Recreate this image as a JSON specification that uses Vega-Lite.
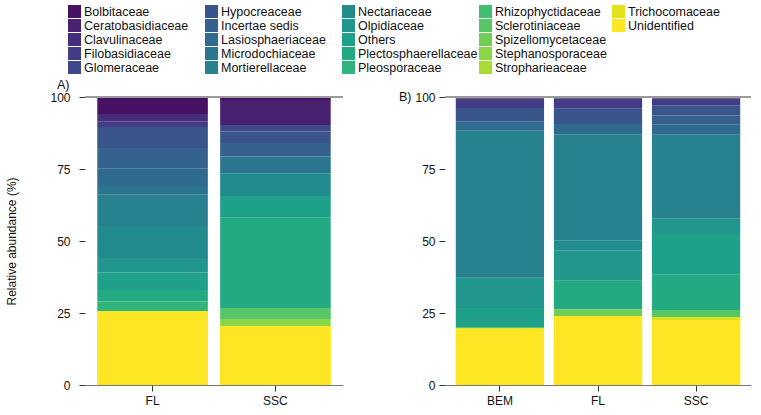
{
  "$schema": "https://vega.github.io/schema/vega-lite/v6.json",
  "config": {
    "font": "Liberation Sans",
    "view": {"stroke": null},
    "axis": {"labelFontSize": 12, "labelColor": "#111", "titleFontSize": 12, "titleFontWeight": "normal", "titleColor": "#111", "grid": false, "tickColor": "#333", "domainColor": "#777"},
    "legend": {"symbolType": "square", "symbolSize": 169, "symbolStrokeWidth": 0, "labelFontSize": 12.5, "labelColor": "#111", "labelLimit": 250, "labelOffset": 3, "rowPadding": 1, "columnPadding": 1, "gridAlign": "all", "titlePadding": 0}
  },
  "datasets": {
    "ab": [
      {"panel": "A", "sample": "FL", "family": "Bolbitaceae", "abundance": 5.9},
      {"panel": "A", "sample": "FL", "family": "Clavulinaceae", "abundance": 2.5},
      {"panel": "A", "sample": "FL", "family": "Filobasidiaceae", "abundance": 2.0},
      {"panel": "A", "sample": "FL", "family": "Hypocreaceae", "abundance": 7.3},
      {"panel": "A", "sample": "FL", "family": "Incertae sedis", "abundance": 7.0},
      {"panel": "A", "sample": "FL", "family": "Lasiosphaeriaceae", "abundance": 6.2},
      {"panel": "A", "sample": "FL", "family": "Microdochiaceae", "abundance": 3.0},
      {"panel": "A", "sample": "FL", "family": "Mortierellaceae", "abundance": 10.9},
      {"panel": "A", "sample": "FL", "family": "Nectariaceae", "abundance": 11.1},
      {"panel": "A", "sample": "FL", "family": "Olpidiaceae", "abundance": 5.0},
      {"panel": "A", "sample": "FL", "family": "Others", "abundance": 6.1},
      {"panel": "A", "sample": "FL", "family": "Plectosphaerellaceae", "abundance": 4.0},
      {"panel": "A", "sample": "FL", "family": "Pleosporaceae", "abundance": 3.3},
      {"panel": "A", "sample": "FL", "family": "Unidentified", "abundance": 25.7},
      {"panel": "A", "sample": "SSC", "family": "Bolbitaceae", "abundance": 1.0},
      {"panel": "A", "sample": "SSC", "family": "Ceratobasidiaceae", "abundance": 8.7},
      {"panel": "A", "sample": "SSC", "family": "Glomeraceae", "abundance": 2.3},
      {"panel": "A", "sample": "SSC", "family": "Hypocreaceae", "abundance": 4.0},
      {"panel": "A", "sample": "SSC", "family": "Incertae sedis", "abundance": 4.7},
      {"panel": "A", "sample": "SSC", "family": "Microdochiaceae", "abundance": 5.8},
      {"panel": "A", "sample": "SSC", "family": "Nectariaceae", "abundance": 7.9},
      {"panel": "A", "sample": "SSC", "family": "Others", "abundance": 7.5},
      {"panel": "A", "sample": "SSC", "family": "Plectosphaerellaceae", "abundance": 31.4},
      {"panel": "A", "sample": "SSC", "family": "Sclerotiniaceae", "abundance": 3.8},
      {"panel": "A", "sample": "SSC", "family": "Stephanosporaceae", "abundance": 2.4},
      {"panel": "A", "sample": "SSC", "family": "Unidentified", "abundance": 20.5},
      {"panel": "B", "sample": "BEM", "family": "Bolbitaceae", "abundance": 0.5},
      {"panel": "B", "sample": "BEM", "family": "Filobasidiaceae", "abundance": 3.3},
      {"panel": "B", "sample": "BEM", "family": "Hypocreaceae", "abundance": 4.6},
      {"panel": "B", "sample": "BEM", "family": "Lasiosphaeriaceae", "abundance": 3.3},
      {"panel": "B", "sample": "BEM", "family": "Mortierellaceae", "abundance": 51.1},
      {"panel": "B", "sample": "BEM", "family": "Olpidiaceae", "abundance": 10.5},
      {"panel": "B", "sample": "BEM", "family": "Others", "abundance": 6.6},
      {"panel": "B", "sample": "BEM", "family": "Sclerotiniaceae", "abundance": 0.5},
      {"panel": "B", "sample": "BEM", "family": "Unidentified", "abundance": 19.6},
      {"panel": "B", "sample": "FL", "family": "Bolbitaceae", "abundance": 0.5},
      {"panel": "B", "sample": "FL", "family": "Filobasidiaceae", "abundance": 3.6},
      {"panel": "B", "sample": "FL", "family": "Hypocreaceae", "abundance": 5.3},
      {"panel": "B", "sample": "FL", "family": "Lasiosphaeriaceae", "abundance": 3.5},
      {"panel": "B", "sample": "FL", "family": "Mortierellaceae", "abundance": 37.0},
      {"panel": "B", "sample": "FL", "family": "Nectariaceae", "abundance": 3.3},
      {"panel": "B", "sample": "FL", "family": "Olpidiaceae", "abundance": 10.6},
      {"panel": "B", "sample": "FL", "family": "Plectosphaerellaceae", "abundance": 9.9},
      {"panel": "B", "sample": "FL", "family": "Spizellomycetaceae", "abundance": 2.3},
      {"panel": "B", "sample": "FL", "family": "Unidentified", "abundance": 24.0},
      {"panel": "B", "sample": "SSC", "family": "Bolbitaceae", "abundance": 0.5},
      {"panel": "B", "sample": "SSC", "family": "Filobasidiaceae", "abundance": 2.4},
      {"panel": "B", "sample": "SSC", "family": "Hypocreaceae", "abundance": 3.5},
      {"panel": "B", "sample": "SSC", "family": "Incertae sedis", "abundance": 3.2},
      {"panel": "B", "sample": "SSC", "family": "Lasiosphaeriaceae", "abundance": 3.5},
      {"panel": "B", "sample": "SSC", "family": "Mortierellaceae", "abundance": 29.2},
      {"panel": "B", "sample": "SSC", "family": "Olpidiaceae", "abundance": 5.3},
      {"panel": "B", "sample": "SSC", "family": "Others", "abundance": 14.1},
      {"panel": "B", "sample": "SSC", "family": "Plectosphaerellaceae", "abundance": 12.3},
      {"panel": "B", "sample": "SSC", "family": "Sclerotiniaceae", "abundance": 2.5},
      {"panel": "B", "sample": "SSC", "family": "Trichocomaceae", "abundance": 1.0},
      {"panel": "B", "sample": "SSC", "family": "Unidentified", "abundance": 22.5}
    ]
  },
  "data": {"name": "ab"},
  "spacing": 102,
  "align": "none",
  "bounds": "flush",
  "resolve": {"scale": {"color": "shared", "fill": "shared"}},
  "hconcat": [
    {
      "width": 258,
      "height": 288,
      "title": {"text": "A)", "anchor": "start", "frame": "group", "dx": -28, "fontSize": 12.5, "fontWeight": "normal", "offset": 0, "color": "#111"},
      "transform": [{"filter": "datum.panel === 'A'"}],
      "layer": [
        {
          "encoding": {
            "x": {"field": "sample", "type": "nominal", "sort": ["FL", "SSC"], "scale": {"paddingInner": 0.1, "paddingOuter": 0.1}, "axis": {"title": null, "labelAngle": 0, "tickSize": 6, "labelPadding": 4}},
            "y": {"field": "abundance", "type": "quantitative", "stack": "zero", "scale": {"domain": [0, 100]}, "axis": {"title": "Relative abundance (%)", "values": [0, 25, 50, 75, 100], "domain": false, "tickSize": 6, "labelPadding": 9, "titlePadding": 31}},
            "order": {"field": "family", "sort": "descending"}
          },
          "layer": [
            {
              "mark": {"type": "bar"},
              "encoding": {
                "color": {
                  "field": "family", "type": "nominal",
                  "scale": {"domain": ["Bolbitaceae", "Ceratobasidiaceae", "Clavulinaceae", "Filobasidiaceae", "Glomeraceae", "Hypocreaceae", "Incertae sedis", "Lasiosphaeriaceae", "Microdochiaceae", "Mortierellaceae", "Nectariaceae", "Olpidiaceae", "Others", "Plectosphaerellaceae", "Pleosporaceae", "Rhizophyctidaceae", "Sclerotiniaceae", "Spizellomycetaceae", "Stephanosporaceae", "Stropharieaceae", "Trichocomaceae", "Unidentified"], "scheme": "viridis"},
                  "legend": {"title": null, "orient": "none", "legendX": -17, "legendY": -92, "columns": 4, "values": ["Bolbitaceae", "Ceratobasidiaceae", "Clavulinaceae", "Filobasidiaceae", "Glomeraceae", "Hypocreaceae", "Incertae sedis", "Lasiosphaeriaceae", "Microdochiaceae", "Mortierellaceae", "Nectariaceae", "Olpidiaceae", "Others", "Plectosphaerellaceae", "Pleosporaceae", "Rhizophyctidaceae", "Sclerotiniaceae", "Spizellomycetaceae", "Stephanosporaceae", "Stropharieaceae"]}
                }
              }
            },
            {
              "transform": [{"filter": {"field": "family", "oneOf": ["Trichocomaceae", "Unidentified"]}}],
              "mark": {"type": "bar"},
              "encoding": {
                "fill": {"field": "family", "type": "nominal", "scale": {"domain": ["Trichocomaceae", "Unidentified"], "range": ["#e0e318", "#fde725"]}, "legend": {"title": null, "orient": "none", "legendX": 527, "legendY": -92, "columns": 1}}
              }
            }
          ]
        },
        {
          "mark": {"type": "rule", "color": "#999", "strokeWidth": 1},
          "encoding": {"y": {"datum": 100, "type": "quantitative"}}
        }
      ]
    },
    {
      "width": 306,
      "height": 288,
      "title": {"text": "B)", "anchor": "start", "frame": "group", "dx": -46, "fontSize": 12.5, "fontWeight": "normal", "offset": -12, "color": "#111"},
      "transform": [{"filter": "datum.panel === 'B'"}],
      "layer": [
        {
          "encoding": {
            "x": {"field": "sample", "type": "nominal", "sort": ["BEM", "FL", "SSC"], "scale": {"paddingInner": 0.1, "paddingOuter": 0.11}, "axis": {"title": null, "labelAngle": 0, "tickSize": 6, "labelPadding": 4}},
            "y": {"field": "abundance", "type": "quantitative", "stack": "zero", "scale": {"domain": [0, 100]}, "axis": {"title": null, "values": [0, 25, 50, 75, 100], "domain": false, "tickSize": 6, "labelPadding": 4}},
            "order": {"field": "family", "sort": "descending"}
          },
          "layer": [
            {
              "mark": {"type": "bar"},
              "encoding": {
                "color": {
                  "field": "family", "type": "nominal",
                  "scale": {"domain": ["Bolbitaceae", "Ceratobasidiaceae", "Clavulinaceae", "Filobasidiaceae", "Glomeraceae", "Hypocreaceae", "Incertae sedis", "Lasiosphaeriaceae", "Microdochiaceae", "Mortierellaceae", "Nectariaceae", "Olpidiaceae", "Others", "Plectosphaerellaceae", "Pleosporaceae", "Rhizophyctidaceae", "Sclerotiniaceae", "Spizellomycetaceae", "Stephanosporaceae", "Stropharieaceae", "Trichocomaceae", "Unidentified"], "scheme": "viridis"},
                  "legend": {"title": null, "orient": "none", "legendX": -17, "legendY": -92, "columns": 4, "values": ["Bolbitaceae", "Ceratobasidiaceae", "Clavulinaceae", "Filobasidiaceae", "Glomeraceae", "Hypocreaceae", "Incertae sedis", "Lasiosphaeriaceae", "Microdochiaceae", "Mortierellaceae", "Nectariaceae", "Olpidiaceae", "Others", "Plectosphaerellaceae", "Pleosporaceae", "Rhizophyctidaceae", "Sclerotiniaceae", "Spizellomycetaceae", "Stephanosporaceae", "Stropharieaceae"]}
                }
              }
            },
            {
              "transform": [{"filter": {"field": "family", "oneOf": ["Trichocomaceae", "Unidentified"]}}],
              "mark": {"type": "bar"},
              "encoding": {
                "fill": {"field": "family", "type": "nominal", "scale": {"domain": ["Trichocomaceae", "Unidentified"], "range": ["#e0e318", "#fde725"]}, "legend": {"title": null, "orient": "none", "legendX": 527, "legendY": -92, "columns": 1}}
              }
            }
          ]
        },
        {
          "mark": {"type": "rule", "color": "#999", "strokeWidth": 1},
          "encoding": {"y": {"datum": 100, "type": "quantitative"}}
        }
      ]
    }
  ]
}
